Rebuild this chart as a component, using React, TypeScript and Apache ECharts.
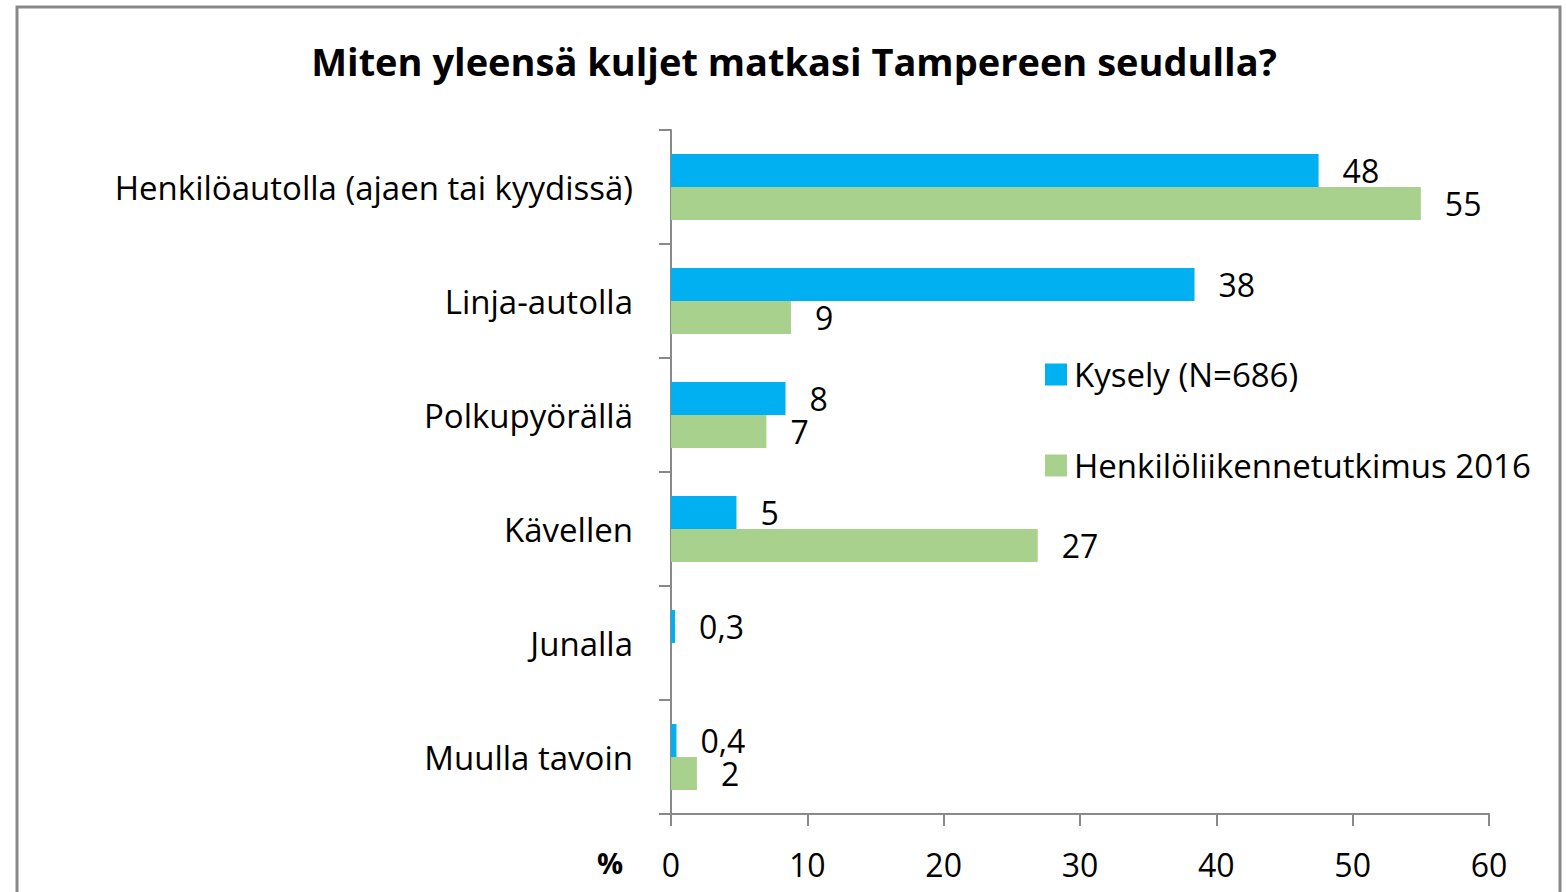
import React, { useEffect, useRef } from "react";
import * as echarts from "echarts";

const titleText = "Miten yleensä kuljet matkasi Tampereen seudulla?";
const categories = [
  "Henkilöautolla (ajaen tai kyydissä)",
  "Linja-autolla",
  "Polkupyörällä",
  "Kävellen",
  "Junalla",
  "Muulla tavoin",
];
const seriesNames = ["Kysely (N=686)", "Henkilöliikennetutkimus 2016"];
const kyselyValues = [47.5, 38.4, 8.4, 4.8, 0.3, 0.4];
const hltValues: (number | null)[] = [55, 8.8, 7.0, 26.9, null, 1.9];
const xTicks = [0, 10, 20, 30, 40, 50, 60];

const FONT = "'Open Sans', Lato, sans-serif";

const fmt = (v: number) =>
  v < 1 ? v.toFixed(1).replace(".", ",") : String(Math.round(v));

export default function App() {
  const ref = useRef<HTMLDivElement>(null);
  useEffect(() => {
    if (!ref.current) return;
    const chart = echarts.init(ref.current, null, { renderer: "svg" });
    const labelStyle = {
      show: true,
      position: "right" as const,
      distance: 24,
      fontSize: 32,
      lineHeight: 30,
      fontFamily: FONT,
      color: "#000",
      formatter: (p: any) => fmt(p.value),
    };
    chart.setOption({
      animation: false,
      backgroundColor: "#fff",
      title: {
        text: titleText,
        left: 789,
        textAlign: "center",
        top: 37,
        textStyle: { fontSize: 38, fontWeight: "bold", fontFamily: FONT, color: "#000" },
      },
      legend: {
        orient: "vertical",
        left: 1040,
        top: 353,
        itemWidth: 22,
        itemHeight: 22,
        itemGap: 58,
        icon: "rect",
        textStyle: {
          fontSize: 33,
          lineHeight: 32,
          fontFamily: FONT,
          color: "#000",
          padding: [0, 0, 0, 2],
        },
        data: seriesNames,
      },
      grid: { left: 671, right: 77, top: 130, bottom: 78, containLabel: false },
      xAxis: {
        type: "value",
        min: xTicks[0],
        max: xTicks[xTicks.length - 1],
        interval: 10,
        axisLine: { show: true, lineStyle: { color: "#898989", width: 2 } },
        axisTick: { show: true, length: 12, lineStyle: { color: "#898989", width: 2 } },
        splitLine: { show: false },
        axisLabel: { fontSize: 32, fontFamily: FONT, color: "#000", margin: 34 },
      },
      yAxis: {
        type: "category",
        inverse: true,
        data: categories,
        axisLine: { show: true, lineStyle: { color: "#898989", width: 2 } },
        axisTick: { show: true, length: 12, lineStyle: { color: "#898989", width: 2 } },
        axisLabel: { fontSize: 33, fontFamily: FONT, color: "#000", margin: 38 },
      },
      series: [
        {
          name: seriesNames[0],
          type: "bar",
          data: kyselyValues,
          barWidth: 33,
          barGap: "0%",
          itemStyle: { color: "#00B0F0" },
          label: labelStyle,
        },
        {
          name: seriesNames[1],
          type: "bar",
          data: hltValues,
          barWidth: 33,
          barGap: "0%",
          itemStyle: { color: "#A9D18E" },
          label: labelStyle,
        },
      ],
      graphic: [
        {
          type: "rect",
          shape: { x: 17, y: 7, width: 1543, height: 900 },
          style: { fill: "none", stroke: "#898989", lineWidth: 3 },
          silent: true,
        },
        {
          type: "text",
          x: 610,
          y: 862,
          style: {
            text: "%",
            fontSize: 29,
            fontWeight: "bold",
            fontFamily: FONT,
            fill: "#000",
            textAlign: "center",
            textVerticalAlign: "middle",
          },
        },
      ],
    });
    return () => chart.dispose();
  }, []);
  return (
    <div
      ref={ref}
      style={{ position: "fixed", left: 0, top: 0, width: 1566, height: 892 }}
    />
  );
}
